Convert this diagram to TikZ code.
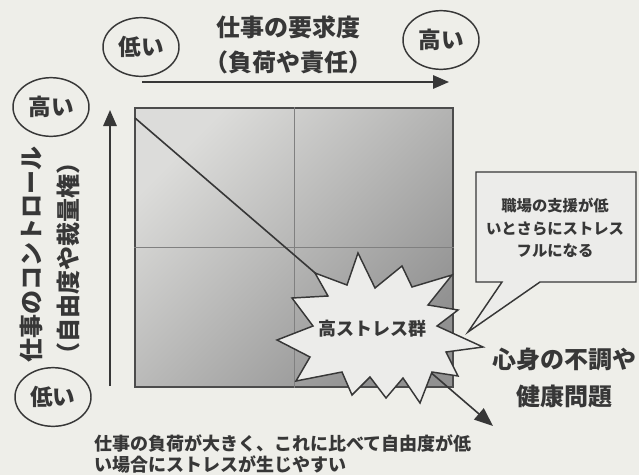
\documentclass[tikz,border=0pt]{standalone}
\usepackage{fontspec}
\newfontfamily\jp{Noto Sans CJK JP}
\usetikzlibrary{arrows.meta,shapes.geometric}
\definecolor{paper}{RGB}{238,238,233}
\definecolor{ink}{RGB}{55,55,55}
\definecolor{lite}{RGB}{220,220,218}
\definecolor{dark}{RGB}{145,145,145}
\definecolor{burstfill}{RGB}{236,236,234}
\tikzset{
  txt/.style={text=ink, font=\jp\bfseries, inner sep=0pt, align=center},
  oval/.style={draw=ink, line width=1.1pt, ellipse, minimum width=57pt, minimum height=44pt, inner sep=0pt, text=ink, font=\jp\bfseries\fontsize{17}{20}\selectfont},
  axisarrow/.style={draw=ink, line width=1.5pt, -{Triangle[length=12pt,width=10pt]}},
  midline/.style={draw=black!50, line width=0.5pt},
}
\begin{document}
\begin{tikzpicture}[x=0.75pt,y=-0.75pt]
\useasboundingbox (0,0) rectangle (639,475);
\fill[paper] (0,0) rectangle (639,475);

% quadrant box
\node (box) [draw=black!70, line width=1.3pt, top color=lite, bottom color=dark, shading angle=45,
  minimum width=238.5pt, minimum height=209.25pt, inner sep=0pt] at (294,247.5) {};
\draw[midline] (box.north) -- (box.south);
\draw[midline] (box.west) -- (box.east);

% diagonal with arrow
\coordinate (corner) at (135,118);
\coordinate (tip) at (493,426);
\draw[draw=ink, line width=1.2pt, -{Triangle[length=14pt,width=11pt]}] (corner) -- (tip);

% burst
\filldraw[fill=burstfill, draw=ink, line width=1.1pt, line join=miter]
 (358,253) -- (375,288) -- (402,266) -- (412,287) -- (452,275) -- (428,305)
 -- (458,310) -- (437,326) -- (483,347) -- (446,352) -- (458,376) -- (432,372)
 -- (420,403) -- (403,378) -- (386,398) -- (370,377) -- (352,395) -- (342,372)
 -- (296,381) -- (310,357) -- (277,340) -- (313,326) -- (292,298) -- (328,296)
 -- (315,273) -- (347,285) -- cycle;
\node (burst) [txt, font=\jp\bfseries\fontsize{13.5}{16}\selectfont] at (372,329) {高ストレス群};

% callout
\filldraw[fill=burstfill, draw=ink, line width=1.1pt, line join=miter]
 (476,172) -- (636,172) -- (636,282) -- (540,282) -- (468,332) -- (502,282) -- (476,282) -- cycle;
\node (call) [txt, font=\jp\bfseries\fontsize{11.5}{17}\selectfont] at (555,228) {職場の支援が低\\いとさらにストレス\\フルになる};

% top axis
\node (title) [txt, font=\jp\bfseries\fontsize{18}{26}\selectfont] at (288,45) {仕事の要求度\\（負荷や責任）};
\coordinate (ha) at (142,82);
\coordinate (hb) at (449,82);
\draw[axisarrow] (ha) -- (hb);
\node (lowtop) [oval] at (141,47) {低い};
\node (hightop) [oval] at (441,40) {高い};

% left axis
\coordinate (va) at (110,386);
\coordinate (vb) at (110,110);
\draw[axisarrow] (va) -- (vb);
\node (highleft) [oval] at (51,107) {高い};
\node (lowleft) [oval] at (53,397) {低い};
\node (ylab1) [txt, rotate=90, font=\jp\bfseries\fontsize{18}{20}\selectfont] at (31,254) {仕事のコントロール};
\node (ylab2) [txt, rotate=90, font=\jp\bfseries\fontsize{18}{20}\selectfont] at (68,258) {（自由度や裁量権）};

% outcome
\node (outcome) [txt, font=\jp\bfseries\fontsize{18}{28}\selectfont] at (564,378) {心身の不調や\\健康問題};

% caption
\node (cap) [txt, anchor=north west, align=left, font=\jp\bfseries\fontsize{13.5}{16}\selectfont] at (94,434) {仕事の負荷が大きく、これに比べて自由度が低\\い場合にストレスが生じやすい};
\end{tikzpicture}
\end{document}
